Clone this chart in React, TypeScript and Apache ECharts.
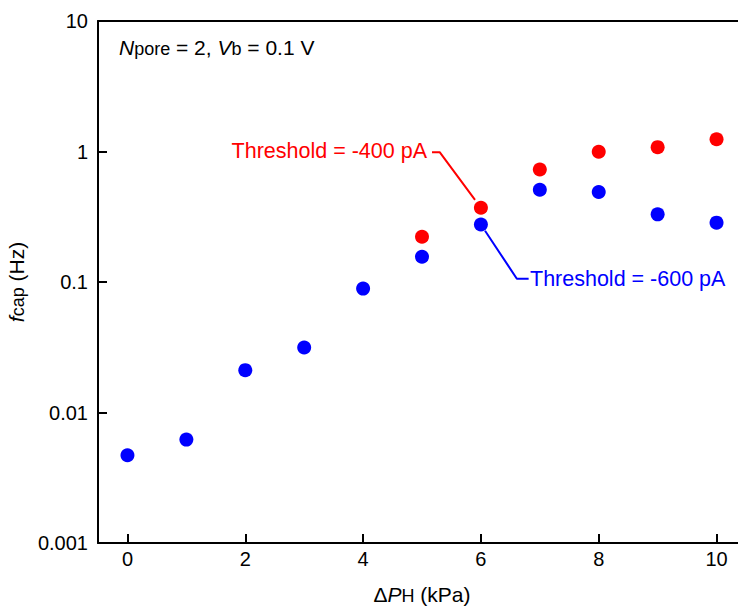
import React, { useEffect, useRef } from "react";
import * as echarts from "echarts";

const xTicks = [0, 2, 4, 6, 8, 10];
const yTickLabels = ["0.001", "0.01", "0.1", "1", "10"];
const xBlue = [0, 1, 2, 3, 4, 5, 6, 7, 8, 9, 10];
const blueValues = [0.0047, 0.0062, 0.0211, 0.0315, 0.089, 0.156, 0.276, 0.509, 0.489, 0.33, 0.285];
const xRed = [5, 6, 7, 8, 9, 10];
const redValues = [0.222, 0.371, 0.728, 0.995, 1.08, 1.24];
const redLeader = [[5.17, 0.989], [5.3, 0.989], [5.9, 0.426]];
const blueLeader = [[6.07, 0.247], [6.61, 0.106], [6.81, 0.106]];
const redLabel = "Threshold = -400 pA";
const blueLabel = "Threshold = -600 pA";

const FONT = "'Liberation Sans', Arial, sans-serif";

export default function App() {
  const ref = useRef<HTMLDivElement>(null);
  useEffect(() => {
    if (!ref.current) return;
    const chart = echarts.init(ref.current, null, { renderer: "svg" });
    const labelMap: Record<string, string> = {};
    yTickLabels.forEach((s) => (labelMap[String(Math.round(Math.log10(parseFloat(s))))] = s));
    chart.setOption({
      animation: false,
      backgroundColor: "#fff",
      textStyle: { fontFamily: FONT },
      grid: { left: 98, top: 21, right: -8, bottom: 65, containLabel: false, outerBoundsMode: "none" },
      xAxis: [
        {
          type: "value",
          min: -0.5,
          max: 10.5,
          position: "bottom",
          axisLine: { show: true, onZero: false, lineStyle: { color: "#000", width: 2 } },
          axisTick: { show: true, inside: true, length: 9, lineStyle: { color: "#000", width: 2 }, customValues: xTicks },
          axisLabel: { show: true, customValues: xTicks, color: "#000", fontSize: 20, fontFamily: FONT, margin: 6 },
          splitLine: { show: false },
          name: "{d|Δ}{p|P}{s|H}{d| (kPa)}",
          nameLocation: "middle",
          nameGap: 38,
          nameTextStyle: {
            rich: {
              d: { fontSize: 21, fontFamily: FONT, color: "#000", lineHeight: 24, verticalAlign: "bottom" },
              p: { fontSize: 21, fontFamily: FONT, fontStyle: "italic", color: "#000", lineHeight: 24, verticalAlign: "bottom" },
              s: { fontSize: 18, fontFamily: FONT, color: "#000", lineHeight: 21, verticalAlign: "bottom" },
            },
          },
        },
        {
          type: "value",
          min: -0.5,
          max: 10.5,
          position: "top",
          axisLine: { show: true, onZero: false, lineStyle: { color: "#000", width: 2 } },
          axisTick: { show: false },
          axisLabel: { show: false },
          splitLine: { show: false },
        },
      ],
      yAxis: {
        type: "log",
        logBase: 10,
        min: 0.001,
        max: 10,
        axisLine: { show: true, onZero: false, lineStyle: { color: "#000", width: 2 } },
        axisTick: { show: true, inside: true, length: 9, lineStyle: { color: "#000", width: 2 } },
        minorTick: { show: false },
        splitLine: { show: false },
        axisLabel: {
          color: "#000",
          fontSize: 20,
          fontFamily: FONT,
          margin: 10,
          formatter: (v: number) => labelMap[String(Math.round(Math.log10(v)))] ?? String(v),
        },
        name: "{f|f}{s|cap}{n| (Hz)}",
        nameLocation: "middle",
        nameRotate: 90,
        nameGap: 64,
        nameTextStyle: {
          rich: {
            f: { fontSize: 21, fontFamily: FONT, fontStyle: "italic", color: "#000", lineHeight: 24, verticalAlign: "bottom" },
            s: { fontSize: 18, fontFamily: FONT, color: "#000", lineHeight: 21, verticalAlign: "bottom" },
            n: { fontSize: 21, fontFamily: FONT, color: "#000", lineHeight: 24, verticalAlign: "bottom" },
          },
        },
      },
      series: [
        {
          type: "line",
          data: redLeader,
          symbol: "none",
          silent: true,
          lineStyle: { color: "#ff0000", width: 2 },
          z: 1,
        },
        {
          type: "line",
          data: blueLeader,
          symbol: "none",
          silent: true,
          lineStyle: { color: "#0000ff", width: 2 },
          z: 1,
        },
        {
          type: "scatter",
          data: xBlue.map((x, i) => [x, blueValues[i]]),
          symbol: "circle",
          symbolSize: 14,
          itemStyle: { color: "#0000ff", opacity: 1 },
          z: 3,
        },
        {
          type: "scatter",
          data: xRed.map((x, i) => [x, redValues[i]]),
          symbol: "circle",
          symbolSize: 14,
          itemStyle: { color: "#ff0000", opacity: 1 },
          z: 3,
        },
      ],
      graphic: [
        {
          type: "text",
          x: 119,
          y: 46,
          style: {
            text: "{n|N}{s|pore}{m| = 2, }{n|V}{s|b}{m| = 0.1 V}",
            verticalAlign: "middle",
            align: "left",
            rich: {
              n: { fontSize: 21, fontFamily: FONT, fontStyle: "italic", fill: "#000", lineHeight: 24, verticalAlign: "bottom" },
              m: { fontSize: 21, fontFamily: FONT, fill: "#000", lineHeight: 24, verticalAlign: "bottom" },
              s: { fontSize: 18, fontFamily: FONT, fill: "#000", lineHeight: 21, verticalAlign: "bottom" },
            },
          },
        },
        {
          type: "text",
          x: 427,
          y: 151,
          style: { text: redLabel, fontSize: 21.5, fontFamily: FONT, fill: "#ff0000", align: "right", verticalAlign: "middle" },
        },
        {
          type: "text",
          x: 530,
          y: 279,
          style: { text: blueLabel, fontSize: 21.5, fontFamily: FONT, fill: "#0000ff", align: "left", verticalAlign: "middle" },
        },
      ],
    });
    return () => chart.dispose();
  }, []);
  return <div ref={ref} style={{ position: "fixed", left: 0, top: 0, width: 738, height: 608 }} />;
}
